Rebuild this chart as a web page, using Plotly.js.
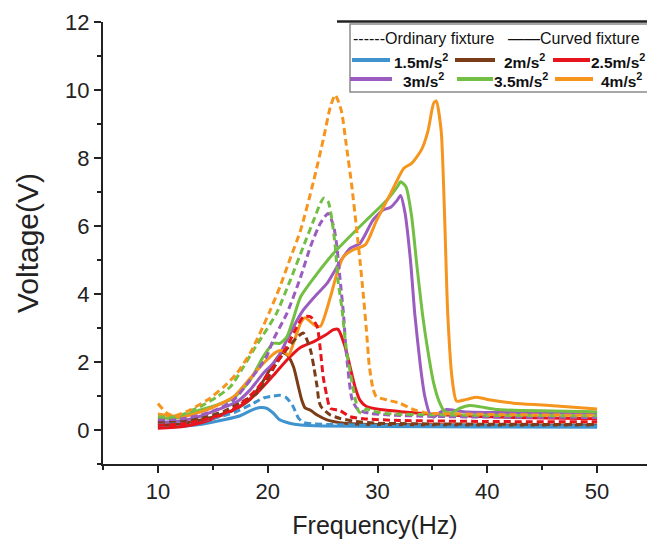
<!DOCTYPE html>
<html>
<head>
<meta charset="utf-8">
<script src="https://cdn.plot.ly/plotly-3.0.1.min.js"></script>
<style>html,body{margin:0;padding:0;background:#fff;}#chart{width:647px;height:540px;}</style>
</head>
<body>
<div id="chart"></div>
<script>
// ---- Data (Frequency in Hz, Voltage in V) ----
// Curved fixture (solid)
const freqC15 = [10, 12, 14, 16, 17.5, 18.5, 19.3, 19.9, 20.5, 21.1, 22, 23, 25, 30, 40, 50];
const voltC15 = [0.08, 0.1, 0.17, 0.3, 0.42, 0.58, 0.66, 0.64, 0.5, 0.3, 0.2, 0.15, 0.12, 0.1, 0.09, 0.08];

const freqC2 = [10, 12, 14, 16, 17, 18.4, 19.6, 20.5, 21.3, 21.8, 22.35, 22.8, 23.1, 23.4, 23.9, 24.5, 25.4, 27, 30, 40, 50];
const voltC2 = [0.15, 0.18, 0.3, 0.48, 0.6, 0.9, 1.45, 1.95, 2.28, 2.2, 1.86, 1.27, 0.88, 0.65, 0.58, 0.44, 0.3, 0.2, 0.16, 0.15, 0.15];

const freqC25 = [10, 12.3, 14, 15.4, 17.2, 19, 20.5, 21.75, 22.95, 24.2, 25.3, 26.0, 26.4, 27.05, 27.5, 27.95, 28.4, 29.0, 30.25, 32.1, 36.3, 42.4, 50];
const voltC25 = [0.05, 0.1, 0.22, 0.38, 0.64, 1.08, 1.6, 2.06, 2.42, 2.6, 2.8, 2.95, 2.96, 2.45, 1.86, 1.27, 0.88, 0.69, 0.6, 0.54, 0.44, 0.37, 0.33];

const freqC3 = [10, 12.3, 14, 15.4, 17.2, 18.4, 19.6, 20.8, 21.75, 22.7, 23.25, 24.5, 25.4, 26.6, 27.5, 28.4, 29.6, 30.5, 31.2, 31.8, 32.1, 32.5, 33.0, 33.4, 33.9, 34.3, 34.8, 35.1, 35.7, 36.3, 37.8, 50];
const voltC3 = [0.22, 0.28, 0.42, 0.59, 0.83, 1.18, 1.67, 2.06, 2.65, 3.24, 3.53, 4.0, 4.31, 4.95, 5.34, 5.49, 6.18, 6.47, 6.55, 6.76, 6.9, 6.4, 5.0, 3.4, 1.9, 1.0, 0.45, 0.38, 0.52, 0.6, 0.54, 0.49];

const freqC35 = [10, 11.7, 13.85, 15.4, 16.9, 18.4, 19.6, 20.5, 21.1, 21.75, 22.3, 23.0, 24.5, 26.0, 27.5, 29.3, 30.85, 31.8, 32.1, 32.6, 33.1, 33.6, 34.1, 34.6, 35.1, 35.6, 36.1, 36.7, 37.5, 38.4, 39.4, 41, 50];
const voltC35 = [0.35, 0.35, 0.59, 0.74, 0.94, 1.47, 2.16, 2.55, 2.55, 2.74, 3.24, 3.92, 4.6, 5.2, 5.7, 6.27, 6.76, 7.15, 7.3, 7.15, 6.3, 4.8, 3.4, 2.3, 1.4, 0.85, 0.55, 0.5, 0.64, 0.72, 0.68, 0.6, 0.54];

const freqC4 = [10, 12.3, 14.8, 16.9, 18.4, 19.6, 20.8, 21.4, 21.9, 22.4, 23.0, 23.4, 24.3, 24.8, 25.7, 26.3, 26.9, 27.8, 28.9, 29.9, 31.2, 32.4, 33.1, 34.0, 34.6, 35.1, 35.35, 35.8, 36.1, 36.4, 36.8, 37.2, 38.1, 39.05, 40.3, 42.4, 45.4, 50];
const voltC4 = [0.47, 0.39, 0.64, 0.98, 1.52, 1.96, 2.3, 2.33, 2.2, 2.6, 3.15, 3.3, 3.08, 3.05, 3.9, 4.6, 5.1, 5.3, 5.45, 6.15, 6.96, 7.7, 7.84, 8.24, 8.8, 9.6, 9.68, 8.8, 6.4, 3.4, 1.5, 0.85, 0.9, 0.96, 0.88, 0.79, 0.73, 0.62];

// Ordinary fixture (dashed)
const freqO15 = [10, 12, 14, 15.5, 17, 18.5, 19.6, 20.5, 21.1, 21.7, 22.3, 22.8, 23.3, 24, 26, 30, 40, 50];
const voltO15 = [0.2, 0.2, 0.28, 0.38, 0.52, 0.75, 0.94, 1.0, 1.02, 0.95, 0.7, 0.35, 0.22, 0.18, 0.16, 0.14, 0.13, 0.12];

const freqO2 = [10, 12, 14, 16, 17.5, 19, 19.9, 20.8, 21.8, 22.6, 23.25, 23.9, 24.2, 24.5, 24.65, 24.85, 25.7, 26.6, 28, 30, 40, 50];
const voltO2 = [0.25, 0.27, 0.35, 0.55, 0.8, 1.08, 1.47, 1.96, 2.4, 2.7, 2.85, 2.35, 1.86, 1.27, 0.88, 0.69, 0.44, 0.34, 0.25, 0.2, 0.17, 0.16];

const freqO25 = [10, 12, 14, 16, 17.5, 19, 20.5, 21.75, 22.6, 23.25, 23.9, 24.5, 24.8, 25.05, 25.4, 25.7, 26.6, 27.5, 28.7, 32, 40, 50];
const voltO25 = [0.15, 0.17, 0.28, 0.48, 0.75, 1.2, 1.85, 2.45, 3.0, 3.33, 3.33, 3.04, 2.35, 1.57, 0.98, 0.64, 0.57, 0.39, 0.33, 0.28, 0.25, 0.24];

const freqO3 = [10, 12, 14, 15.5, 16.9, 18.4, 19.9, 20.5, 21.75, 23.0, 23.9, 24.8, 25.5, 26.0, 26.3, 26.6, 26.9, 27.15, 27.7, 28.25, 29.3, 31.1, 35, 40, 50];
const voltO3 = [0.3, 0.32, 0.45, 0.62, 0.88, 1.47, 2.16, 2.65, 3.43, 4.5, 5.4, 6.08, 6.37, 6.0, 5.4, 4.4, 3.43, 2.3, 0.88, 0.59, 0.49, 0.44, 0.4, 0.38, 0.37];

const freqO35 = [10, 11.7, 13.85, 15.4, 16.6, 17.8, 18.7, 19.6, 20.8, 22.05, 23.25, 24.2, 24.8, 25.1, 25.5, 25.85, 26.15, 26.4, 26.75, 27.15, 27.7, 28.0, 28.3, 28.6, 29.0, 29.6, 31, 35, 40, 50];
const voltO35 = [0.39, 0.39, 0.69, 0.98, 1.27, 1.86, 2.35, 2.8, 3.43, 4.4, 5.4, 6.18, 6.67, 6.82, 6.72, 6.18, 5.4, 4.4, 3.6, 2.4, 1.37, 0.88, 0.54, 0.49, 0.62, 0.55, 0.48, 0.45, 0.43, 0.42];

const freqO4 = [10, 10.8, 11.5, 12.6, 14.5, 16.0, 17.2, 18.4, 19.3, 20.2, 21.1, 22.0, 23.0, 24.2, 25.1, 25.7, 26.15, 26.7, 27.15, 27.65, 28.1, 28.4, 28.7, 29.0, 29.25, 29.6, 29.9, 30.9, 32.0, 33.3, 34.5, 38, 42, 50];
const voltO4 = [0.78, 0.5, 0.42, 0.54, 0.88, 1.27, 1.67, 2.26, 2.85, 3.5, 4.2, 5.0, 5.88, 7.35, 8.6, 9.5, 9.85, 9.4, 8.4, 7.2, 5.9, 5.0, 4.0, 2.9, 1.9, 1.2, 0.98, 0.88, 0.79, 0.6, 0.5, 0.47, 0.45, 0.43];

const seriesLabels = ['1.5m/s<sup>2</sup>', '2m/s<sup>2</sup>', '2.5m/s<sup>2</sup>', '3m/s<sup>2</sup>', '3.5m/s<sup>2</sup>', '4m/s<sup>2</sup>'];
const seriesColors = ['#3f93cf', '#7b3c18', '#e8141c', '#9b5cbf', '#72bf44', '#f6951e'];
const xTickVals = [10, 20, 30, 40, 50];
const yTickVals = [0, 2, 4, 6, 8, 10, 12];

const curved = [[freqC15, voltC15], [freqC2, voltC2], [freqC25, voltC25], [freqC3, voltC3], [freqC35, voltC35], [freqC4, voltC4]];
const ordinary = [[freqO15, voltO15], [freqO2, voltO2], [freqO25, voltO25], [freqO3, voltO3], [freqO35, voltO35], [freqO4, voltO4]];

const traces = [];
curved.forEach((s, i) => traces.push({
  x: s[0], y: s[1], type: 'scatter', mode: 'lines', name: seriesLabels[i] + ' curved',
  line: {color: seriesColors[i], width: 3, shape: 'spline', smoothing: 0.6}
}));
ordinary.forEach((s, i) => traces.push({
  x: s[0], y: s[1], type: 'scatter', mode: 'lines', name: seriesLabels[i] + ' ordinary',
  line: {color: seriesColors[i], width: 3, dash: '7px,4px', shape: 'spline', smoothing: 0.6}
}));

// ---- Layout helpers (pixel -> paper) ----
const ML = 103, MT = 22, MB = 76, W = 647, H = 540;
const PW = W - ML, PH = H - MT - MB;
const PX = p => (p - ML) / PW;
const PY = p => (H - MB - p) / PH;

const shapes = [];
const annotations = [];
// legend frame
shapes.push({type: 'rect', xref: 'paper', yref: 'paper', x0: PX(350), x1: PX(652), y0: PY(92), y1: PY(24),
  line: {color: '#8a8a8a', width: 1.5}, fillcolor: 'rgba(255,255,255,1)', layer: 'above'});
shapes.push({type: 'line', xref: 'paper', yref: 'paper', x0: PX(337), x1: PX(650), y0: PY(21.5), y1: PY(21.5),
  line: {color: '#222', width: 2.5}, layer: 'above'});
annotations.push({xref: 'paper', yref: 'paper', x: PX(352), y: PY(39), xanchor: 'left', yanchor: 'middle',
  text: '------Ordinary fixture', showarrow: false, font: {size: 16, color: '#111'}, borderpad: 0});
annotations.push({xref: 'paper', yref: 'paper', x: PX(507), y: PY(39), xanchor: 'left', yanchor: 'middle',
  text: '——Curved fixture', showarrow: false, font: {size: 16, color: '#111'}, borderpad: 0});
const legendPos = [
  {l0: 352, l1: 390, t: 393, y: 60}, {l0: 455, l1: 495, t: 503, y: 60}, {l0: 553, l1: 590, t: 590, y: 60},
  {l0: 350, l1: 392, t: 402, y: 79}, {l0: 457, l1: 493, t: 493, y: 79}, {l0: 555, l1: 593, t: 600, y: 79}
];
legendPos.forEach((p, i) => {
  shapes.push({type: 'line', xref: 'paper', yref: 'paper', x0: PX(p.l0), x1: PX(p.l1), y0: PY(p.y), y1: PY(p.y),
    line: {color: seriesColors[i], width: 4}, layer: 'above'});
  annotations.push({xref: 'paper', yref: 'paper', x: PX(p.t), y: PY(p.y + 1), xanchor: 'left', yanchor: 'middle',
    text: '<b>' + seriesLabels[i] + '</b>', showarrow: false, font: {size: 15.5, color: '#111'}, borderpad: 0});
});

const axisCommon = {
  showline: true, linewidth: 2, linecolor: '#222', ticks: 'outside', ticklen: 7, tickwidth: 2, tickcolor: '#222',
  showgrid: false, zeroline: false, tickfont: {size: 22, color: '#222'}
};

const layout = {
  width: W, height: H,
  margin: {l: ML, r: 0, t: MT, b: MB, pad: 0},
  paper_bgcolor: '#fff', plot_bgcolor: '#fff',
  showlegend: false,
  font: {family: 'Liberation Sans, Arial, sans-serif', color: '#222'},
  xaxis: Object.assign({}, axisCommon, {
    range: [5, 5 + PW / 10.98], tickmode: 'array', tickvals: xTickVals,
    minor: {ticks: 'outside', dtick: 5, tick0: 0, ticklen: 4, tickwidth: 2, tickcolor: '#222', showgrid: false},
    title: {text: 'Frequency(Hz)', font: {size: 25, color: '#222'}, standoff: 13}
  }),
  yaxis: Object.assign({}, axisCommon, {
    range: [-1, 12], tickmode: 'array', tickvals: yTickVals,
    minor: {ticks: 'outside', dtick: 1, tick0: 0, ticklen: 4, tickwidth: 2, tickcolor: '#222', showgrid: false},
    title: {text: 'Voltage(V)', font: {size: 30, color: '#222'}, standoff: 18}
  }),
  shapes: shapes,
  annotations: annotations
};

Plotly.newPlot('chart', traces, layout, {displayModeBar: false, staticPlot: true});
</script>
</body>
</html>
